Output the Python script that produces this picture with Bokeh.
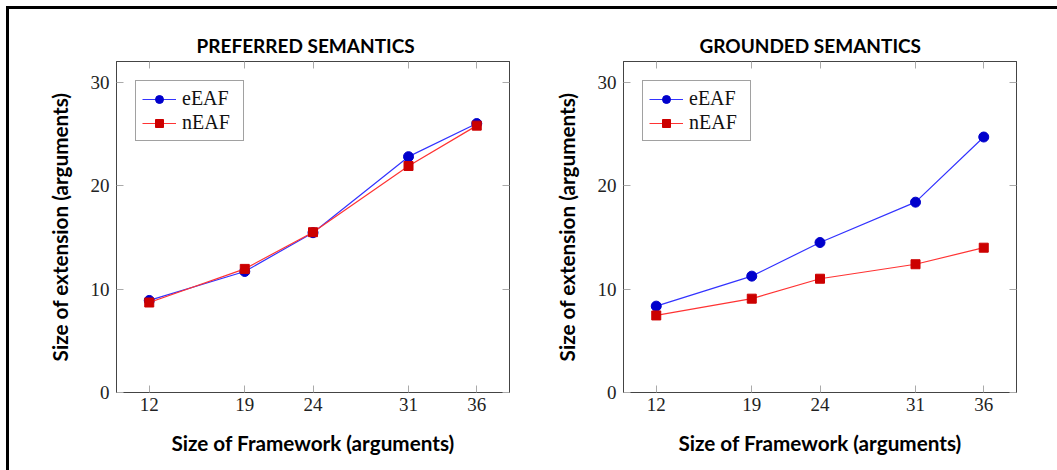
from bokeh.plotting import figure
from bokeh.layouts import row
from bokeh.models import Range1d, FixedTicker, LinearAxis, Title
from bokeh.embed import file_html
from bokeh.resources import INLINE

framework_sizes = [12, 19, 24, 31, 36]
y_ticks = [0, 10, 20, 30]

preferred_eeaf = [8.9, 11.7, 15.45, 22.8, 26.0]
preferred_neaf = [8.7, 11.95, 15.5, 21.9, 25.8]

grounded_eeaf = [8.35, 11.25, 14.5, 18.4, 24.7]
grounded_neaf = [7.45, 9.07, 11.0, 12.4, 14.0]

titles = ["PREFERRED SEMANTICS", "GROUNDED SEMANTICS"]
x_label = "Size of Framework (arguments)"
y_label = "Size of extension (arguments)"

SERIF = "Liberation Serif"
SANS = "Lato"


def make_plot(title, e_vals, n_vals, width, left, right, title_offset):
    p = figure(width=width, height=461, output_backend="svg", toolbar_location=None,
               x_range=Range1d(9.6, 38.4), y_range=Range1d(0, 32),
               min_border_left=left, min_border_right=right,
               min_border_top=52, min_border_bottom=78)
    p.title = Title(text=title, align="left", text_font=SANS, text_font_style="bold",
                    text_font_size="19px", text_color="black", offset=title_offset)
    p.grid.visible = False
    p.outline_line_color = "#444444"
    p.outline_line_width = 1
    p.background_fill_color = "white"
    p.border_fill_color = "white"

    for ax in p.xaxis + p.yaxis:
        ax.axis_line_color = "#444444"
        ax.major_tick_in = 7
        ax.major_tick_out = 0
        ax.minor_tick_line_color = None
        ax.major_tick_line_color = "#aaaaaa"
        ax.major_label_text_font = SERIF
        ax.major_label_text_font_size = "19px"
        ax.major_label_text_color = "#222222"
        ax.axis_label_text_font = SANS
        ax.axis_label_text_font_style = "bold"
        ax.axis_label_text_font_size = "20.7px"
        ax.axis_label_text_color = "black"
    p.xaxis.ticker = FixedTicker(ticks=framework_sizes)
    p.yaxis.ticker = FixedTicker(ticks=y_ticks)
    p.xaxis.axis_label = x_label
    p.yaxis.axis_label = y_label
    p.xaxis.major_label_standoff = 5
    p.yaxis.major_label_standoff = 7
    p.xaxis.axis_label_standoff = 17
    p.yaxis.axis_label_standoff = 16

    top_ax = LinearAxis(ticker=FixedTicker(ticks=framework_sizes), major_label_text_font_size="0px",
                        major_tick_in=7, major_tick_out=0, minor_tick_line_color=None,
                        major_tick_line_color="#aaaaaa", axis_line_color="#444444")
    right_ax = LinearAxis(ticker=FixedTicker(ticks=y_ticks), major_label_text_font_size="0px",
                          major_tick_in=7, major_tick_out=0, minor_tick_line_color=None,
                          major_tick_line_color="#aaaaaa", axis_line_color="#444444")
    top_ax.major_label_text_color = None
    right_ax.major_label_text_color = None
    p.add_layout(top_ax, "above")
    p.add_layout(right_ax, "right")

    p.line(framework_sizes, e_vals, line_color="#3333ff", line_width=1.2, legend_label="eEAF")
    p.scatter(framework_sizes, e_vals, marker="circle", size=10, fill_color="#0000cc",
              line_color="#0000cc", legend_label="eEAF")
    p.line(framework_sizes, n_vals, line_color="#ff3333", line_width=1.2, legend_label="nEAF")
    p.scatter(framework_sizes, n_vals, marker="square", size=9, fill_color="#cc0000",
              line_color="#cc0000", legend_label="nEAF")

    lg = p.legend[0]
    lg.location = "top_left"
    lg.margin = 19
    lg.padding = 6
    lg.spacing = 1
    lg.glyph_width = 34
    lg.glyph_height = 20
    lg.label_height = 20
    lg.label_width = 55
    lg.label_standoff = 6
    lg.label_text_font = SERIF
    lg.label_text_font_size = "20px"
    lg.label_text_color = "#111111"
    lg.border_line_color = "#444444"
    lg.border_line_width = 1
    lg.background_fill_alpha = 1
    return p


p1 = make_plot(titles[0], preferred_eeaf, preferred_neaf, 519, 107, 19, 80)
p2 = make_plot(titles[1], grounded_eeaf, grounded_neaf, 529, 95, 41, 76)

layout = row(p1, p2, styles={"border-top": "3px solid black", "border-left": "3px solid black",
                             "margin-top": "6px", "margin-left": "6px"})

open("out.html", "w").write(file_html(layout, INLINE))
